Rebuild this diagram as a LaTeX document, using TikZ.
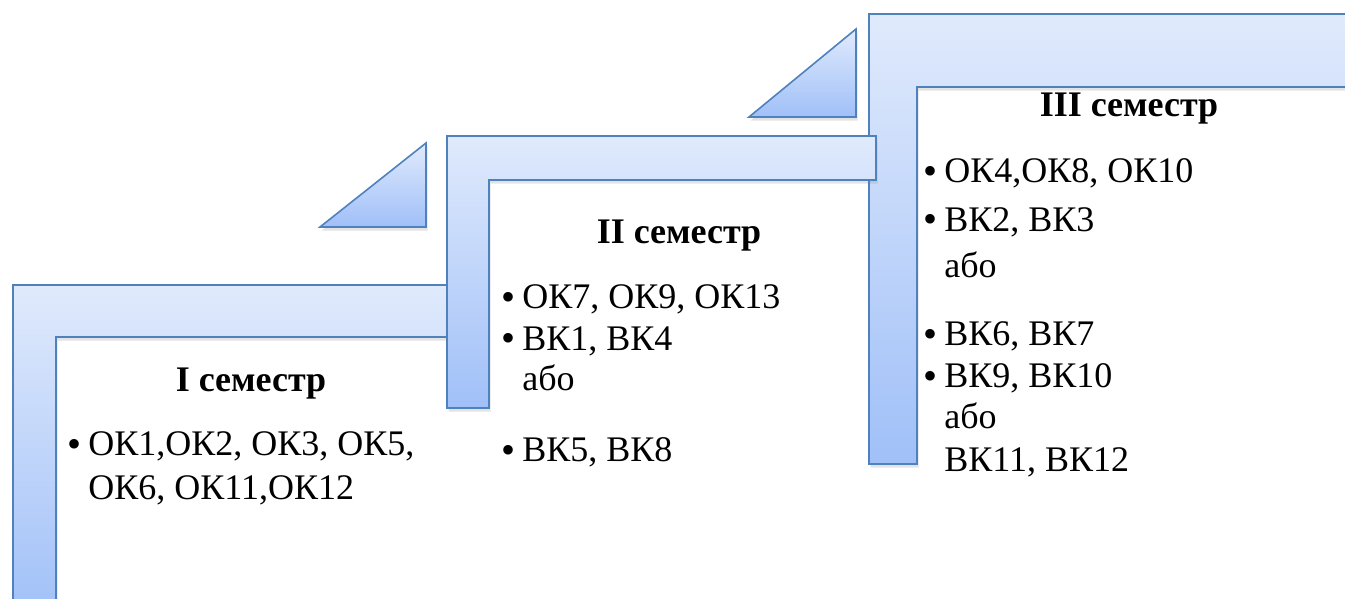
\documentclass[tikz,border=0pt]{standalone}
\usepackage{fontspec}
\setmainfont{Liberation Serif}
\usepackage{tikz}
\usetikzlibrary{shadows}

\definecolor{stepline}{RGB}{79,129,189}
\definecolor{steptop}{RGB}{224,234,252}
\definecolor{stepbottom}{RGB}{160,192,248}

\tikzset{
  stepbar/.style={draw=stepline, line width=0.8pt, top color=steptop, bottom color=stepbottom,
    drop shadow={opacity=0.22, shadow xshift=0.8pt, shadow yshift=-1.8pt}},
  semtitle/.style={anchor=base, inner sep=0pt, font=\fontsize{18}{21}\selectfont\bfseries},
  semitem/.style={anchor=base west, inner sep=0pt, font=\fontsize{18}{21}\selectfont}
}
\newcommand{\semdot}{\llap{\raisebox{-1pt}{\fontsize{20}{20}\selectfont\textbullet}\hspace{3.5pt}}}

\begin{document}
\begin{tikzpicture}[x=0.5pt, y=-0.5pt]
\useasboundingbox (0,0) rectangle (1345,599);

% steps
\draw[stepbar] (869,14) -- (1360,14) -- (1360,87) -- (917,87) -- (917,464) -- (869,464) -- cycle;
\draw[stepbar] (13,285) -- (470,285) -- (470,337) -- (56,337) -- (56,620) -- (13,620) -- cycle;
\draw[stepbar] (447,136) -- (876,136) -- (876,180) -- (489,180) -- (489,408) -- (447,408) -- cycle;

% corner triangles
\draw[stepbar] (320,227) -- (426,227) -- (426,143) -- cycle;
\draw[stepbar] (749,117) -- (856,117) -- (856,29) -- cycle;

% I
\node[semtitle] (sem1) at (251,391) {I семестр};
\node[semitem] (sem1a) at (88,455) {\semdot ОК1,ОК2, ОК3, ОК5,};
\node[semitem] (sem1b) at (88,499) {ОК6, ОК11,ОК12};

% II
\node[semtitle] (sem2) at (679,243) {II семестр};
\node[semitem] (sem2a) at (522,308) {\semdot ОК7, ОК9, ОК13};
\node[semitem] (sem2b) at (522,350) {\semdot ВК1, ВК4};
\node[semitem] (sem2c) at (522,390) {або};
\node[semitem] (sem2d) at (522,461) {\semdot ВК5, ВК8};

% III
\node[semtitle] (sem3) at (1129,117) {III семестр};
\node[semitem] (sem3a) at (944,183) {\semdot ОК4,ОК8, ОК10};
\node[semitem] (sem3b) at (944,231) {\semdot ВК2, ВК3};
\node[semitem] (sem3c) at (944,278) {або};
\node[semitem] (sem3d) at (944,345) {\semdot ВК6, ВК7};
\node[semitem] (sem3e) at (944,387) {\semdot ВК9, ВК10};
\node[semitem] (sem3f) at (944,428) {або};
\node[semitem] (sem3g) at (944,471) {ВК11, ВК12};
\end{tikzpicture}
\end{document}
